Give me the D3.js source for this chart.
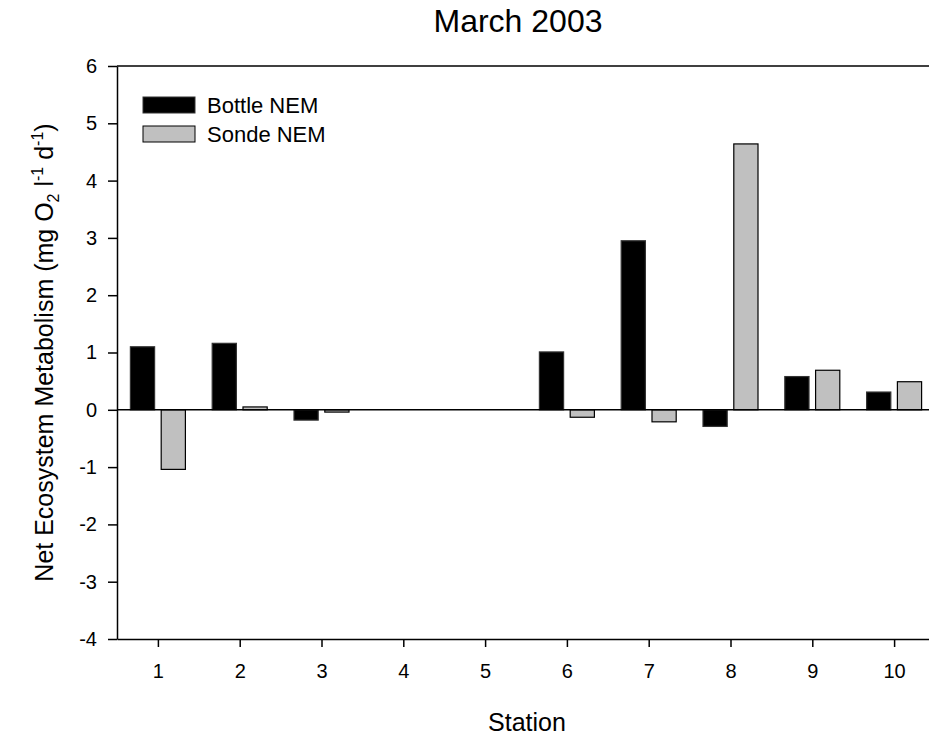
<!DOCTYPE html>
<html>
<head>
<meta charset="utf-8">
<script src="https://cdn.jsdelivr.net/npm/d3@7"></script>
<style>
  body { margin: 0; background: #fff; }
  svg text { font-family: "Liberation Sans", Arial, sans-serif; fill: #000; }
  .axis path, .axis line { stroke: #000; stroke-width: 1.5px; }
  .axis text { font-size: 20px; }
</style>
</head>
<body>
<div id="chart"></div>
<script>
// data
var stations = [1, 2, 3, 4, 5, 6, 7, 8, 9, 10];
var bottleNEM = [1.10, 1.16, -0.18, null, null, 1.01, 2.95, -0.29, 0.58, 0.31];
var sondeNEM = [-1.04, 0.05, -0.04, null, null, -0.13, -0.21, 4.64, 0.69, 0.49];
var seriesNames = ["Bottle NEM", "Sonde NEM"];
var yTicks = [-4, -3, -2, -1, 0, 1, 2, 3, 4, 5, 6];

var W = 929, H = 740;
var margin = { top: 66, right: -6, bottom: 101, left: 117 };
var width = W - margin.left - margin.right;
var height = H - margin.top - margin.bottom;

var svg = d3.select("#chart").append("svg")
    .attr("width", W)
    .attr("height", H);
var g = svg.append("g")
    .attr("transform", "translate(" + margin.left + "," + margin.top + ")");

var x = d3.scaleLinear().domain([0.5, 10.5]).range([0, width]);
var y = d3.scaleLinear().domain([-4, 6]).range([height, 0]);
var xInner = d3.scaleBand().domain(seriesNames).range([-27.5, 27.5]).paddingInner(0.214);
var fills = { "Bottle NEM": "#000000", "Sonde NEM": "#c0c0c0" };
var strokes = { "Bottle NEM": "#333", "Sonde NEM": "#000" };

var rows = [];
stations.forEach(function (s, i) {
    rows.push({ station: s, key: "Bottle NEM", value: bottleNEM[i] });
    rows.push({ station: s, key: "Sonde NEM", value: sondeNEM[i] });
});
rows = rows.filter(function (d) { return d.value !== null; });

// bars
g.selectAll(".bar").data(rows).enter().append("rect")
    .attr("class", "bar")
    .attr("x", function (d) { return x(d.station) + xInner(d.key); })
    .attr("width", xInner.bandwidth())
    .attr("y", function (d) { return y(Math.max(0, d.value)); })
    .attr("height", function (d) { return Math.abs(y(d.value) - y(0)); })
    .attr("fill", function (d) { return fills[d.key]; })
    .attr("stroke", function (d) { return strokes[d.key]; })
    .attr("stroke-width", 1.2);

// zero line
g.append("line")
    .attr("x1", 0).attr("x2", width)
    .attr("y1", y(0)).attr("y2", y(0))
    .attr("stroke", "#000").attr("stroke-width", 1.5);

// top frame line
g.append("line")
    .attr("x1", 0).attr("x2", width)
    .attr("y1", 0).attr("y2", 0)
    .attr("stroke", "#000").attr("stroke-width", 1.5);

var xAxis = d3.axisBottom(x).tickValues(stations).tickSize(8).tickSizeOuter(0).tickPadding(17);
g.append("g").attr("class", "axis")
    .attr("transform", "translate(0," + height + ")")
    .call(xAxis);

// plain hyphen for negatives, as in the original
var yAxis = d3.axisLeft(y).tickValues(yTicks).tickSize(9).tickSizeOuter(0).tickPadding(11)
    .tickFormat(function (d) { return String(d); });
g.append("g").attr("class", "axis")
    .call(yAxis);

// title
svg.append("text")
    .attr("x", 518).attr("y", 32)
    .attr("text-anchor", "middle")
    .style("font-size", "32px")
    .text("March 2003");

// x label
svg.append("text")
    .attr("x", 527).attr("y", 731)
    .attr("text-anchor", "middle")
    .style("font-size", "25px")
    .text("Station");

// y label with sub/superscripts
var yl = svg.append("text")
    .attr("transform", "translate(53," + (margin.top + height / 2) + ") rotate(-90)")
    .attr("text-anchor", "middle")
    .style("font-size", "25px");
yl.append("tspan").text("Net Ecosystem Metabolism (mg O");
yl.append("tspan").attr("dy", 6).style("font-size", "16px").text("2");
yl.append("tspan").attr("dy", -6).text(" l");
yl.append("tspan").attr("dy", -10).style("font-size", "16px").text("-1");
yl.append("tspan").attr("dy", 10).text(" d");
yl.append("tspan").attr("dy", -10).style("font-size", "16px").text("-1");
yl.append("tspan").attr("dy", 10).text(")");

// legend
var legend = svg.selectAll(".legend").data(seriesNames).enter().append("g")
    .attr("class", "legend")
    .attr("transform", function (d, i) { return "translate(143," + (97 + i * 29) + ")"; });
legend.append("rect")
    .attr("width", 52).attr("height", 16)
    .attr("fill", function (d) { return fills[d]; })
    .attr("stroke", function (d) { return strokes[d]; })
    .attr("stroke-width", 1);
legend.append("text")
    .attr("x", 64).attr("y", 15.5)
    .style("font-size", "22px")
    .text(function (d) { return d; });
</script>
</body>
</html>
